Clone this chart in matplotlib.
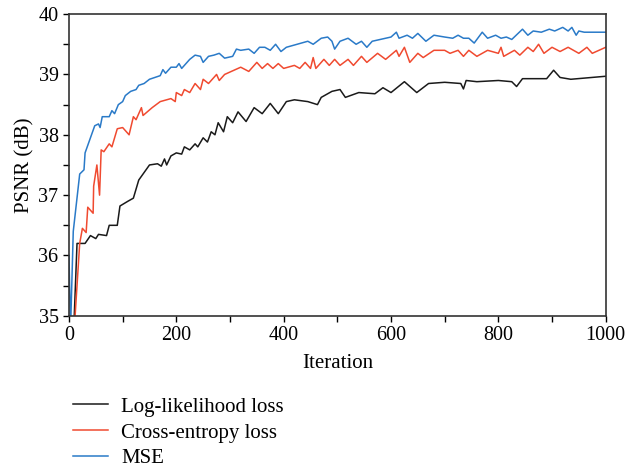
import matplotlib
matplotlib.use("Agg")
import matplotlib.pyplot as plt
from matplotlib.ticker import MultipleLocator

plt.rcParams['font.family'] = ['Liberation Serif', 'DejaVu Serif']

# Log-likelihood loss
ll_x = [9, 15, 30, 40, 50, 55, 70, 75, 90, 95, 110, 120, 130, 150, 165, 172, 178, 182, 190,
        200, 210, 215, 225, 235, 240, 250, 258, 265, 272, 278, 288, 295, 305, 315, 330,
        345, 360, 375, 390, 405, 420, 445, 463, 470, 490, 505, 515, 540, 570, 585, 600,
        625, 648, 670, 700, 730, 735, 740, 760, 800, 825, 834, 845, 890, 903, 915, 935, 1000]
ll_y = [34.8, 36.2, 36.2, 36.33, 36.28, 36.35, 36.33, 36.5, 36.5, 36.82, 36.9, 36.95, 37.25,
        37.5, 37.52, 37.48, 37.6, 37.5, 37.65, 37.7, 37.68, 37.8, 37.75, 37.85, 37.8, 37.95,
        37.88, 38.05, 38.0, 38.2, 38.05, 38.3, 38.2, 38.38, 38.22, 38.45, 38.35, 38.52, 38.35,
        38.55, 38.58, 38.55, 38.5, 38.62, 38.72, 38.75, 38.62, 38.7, 38.68, 38.78, 38.7, 38.88,
        38.7, 38.85, 38.87, 38.85, 38.76, 38.9, 38.88, 38.9, 38.88, 38.8, 38.93, 38.93, 39.07,
        38.95, 38.92, 38.97]

# Cross-entropy loss
ce_x = [10, 20, 25, 32, 35, 45, 46, 52, 57, 60, 65, 75, 80, 90, 100, 112, 120, 125, 135,
        138, 155, 170, 190, 198, 200, 210, 215, 225, 235, 245, 250, 260, 275, 280, 290, 310,
        320, 335, 345, 350, 360, 370, 380, 390, 400, 420, 430, 440, 450, 455, 460, 475, 485,
        495, 505, 520, 530, 545, 555, 575, 590, 610, 615, 625, 635, 650, 660, 680, 700, 710,
        725, 735, 745, 760, 780, 800, 805, 810, 830, 840, 855, 865, 875, 885, 900, 915, 930,
        950, 965, 975, 1000]
ce_y = [34.8, 36.2, 36.45, 36.38, 36.8, 36.7, 37.15, 37.5, 37.0, 37.75, 37.72, 37.85, 37.8,
        38.1, 38.12, 38.0, 38.3, 38.25, 38.45, 38.32, 38.45, 38.55, 38.6, 38.55, 38.7, 38.65,
        38.75, 38.7, 38.85, 38.75, 38.92, 38.85, 39.0, 38.9, 39.0, 39.08, 39.12, 39.05, 39.15,
        39.2, 39.1, 39.18, 39.1, 39.18, 39.1, 39.15, 39.1, 39.2, 39.1, 39.28, 39.1, 39.25,
        39.15, 39.25, 39.15, 39.25, 39.15, 39.3, 39.2, 39.35, 39.25, 39.4, 39.3, 39.45, 39.2,
        39.35, 39.28, 39.4, 39.4, 39.35, 39.4, 39.3, 39.4, 39.3, 39.4, 39.35, 39.45, 39.3,
        39.4, 39.32, 39.45, 39.38, 39.5, 39.35, 39.45, 39.38, 39.45, 39.35, 39.45, 39.35, 39.45]

# MSE
mse_x = [0, 3, 8, 20, 28, 30, 40, 48, 55, 58, 62, 75, 80, 85, 92, 100, 105, 115, 125, 130,
         140, 150, 160, 170, 175, 180, 190, 200, 205, 210, 225, 235, 245, 250, 260, 270, 280,
         290, 305, 312, 320, 335, 345, 355, 365, 375, 385, 395, 405, 425, 445, 455, 470, 482,
         490, 495, 505, 520, 535, 545, 555, 565, 580, 600, 610, 615, 630, 640, 650, 665, 680,
         700, 715, 725, 735, 745, 755, 770, 780, 795, 805, 815, 825, 845, 855, 865, 880, 895,
         905, 920, 930, 937, 945, 950, 960, 1000]
mse_y = [36.0, 34.8, 36.4, 37.35, 37.42, 37.7, 37.95, 38.15, 38.18, 38.12, 38.3, 38.3, 38.4,
         38.35, 38.5, 38.55, 38.65, 38.72, 38.75, 38.82, 38.85, 38.92, 38.95, 38.98, 39.08,
         39.02, 39.12, 39.12, 39.18, 39.1, 39.25, 39.32, 39.3, 39.2, 39.3, 39.32, 39.35, 39.27,
         39.3, 39.42, 39.4, 39.42, 39.35, 39.45, 39.45, 39.4, 39.5, 39.38, 39.45, 39.5, 39.55,
         39.5, 39.6, 39.62, 39.55, 39.42, 39.55, 39.6, 39.5, 39.55, 39.45, 39.55, 39.58, 39.62,
         39.7, 39.6, 39.65, 39.6, 39.68, 39.55, 39.65, 39.62, 39.6, 39.65, 39.6, 39.6, 39.52,
         39.7, 39.6, 39.65, 39.6, 39.62, 39.58, 39.75, 39.65, 39.72, 39.7, 39.75, 39.72, 39.78,
         39.72, 39.78, 39.65, 39.72, 39.7, 39.7]

fig = plt.figure(figsize=(6.27, 4.70), dpi=100)
ax = fig.add_axes([0.110, 0.328, 0.856, 0.642])

ax.plot(ll_x, ll_y, color='#1a1a1a', lw=1.1, label='Log-likelihood loss')
ax.plot(ce_x, ce_y, color='#f04a30', lw=1.1, label='Cross-entropy loss')
ax.plot(mse_x, mse_y, color='#2a7ac8', lw=1.1, label='MSE')

ax.set_xlim(0, 1000)
ax.set_ylim(35, 40)
ax.xaxis.set_major_locator(MultipleLocator(200))
ax.xaxis.set_minor_locator(MultipleLocator(100))
ax.yaxis.set_major_locator(MultipleLocator(1))
ax.yaxis.set_minor_locator(MultipleLocator(0.5))
ax.tick_params(which='both', direction='out', length=4, width=1, labelsize=14.5)
for s in ax.spines.values():
    s.set_linewidth(1.2)
    s.set_color('#333333')

ax.set_xlabel('Iteration', fontsize=15, labelpad=6)
ax.set_ylabel('PSNR (dB)', fontsize=15, labelpad=3)

fig.legend(loc='upper left', bbox_to_anchor=(0.087, 0.195), frameon=False,
           fontsize=15, handlelength=1.65, handletextpad=0.65, labelspacing=0.3)

fig.savefig("out.png", dpi=100)
